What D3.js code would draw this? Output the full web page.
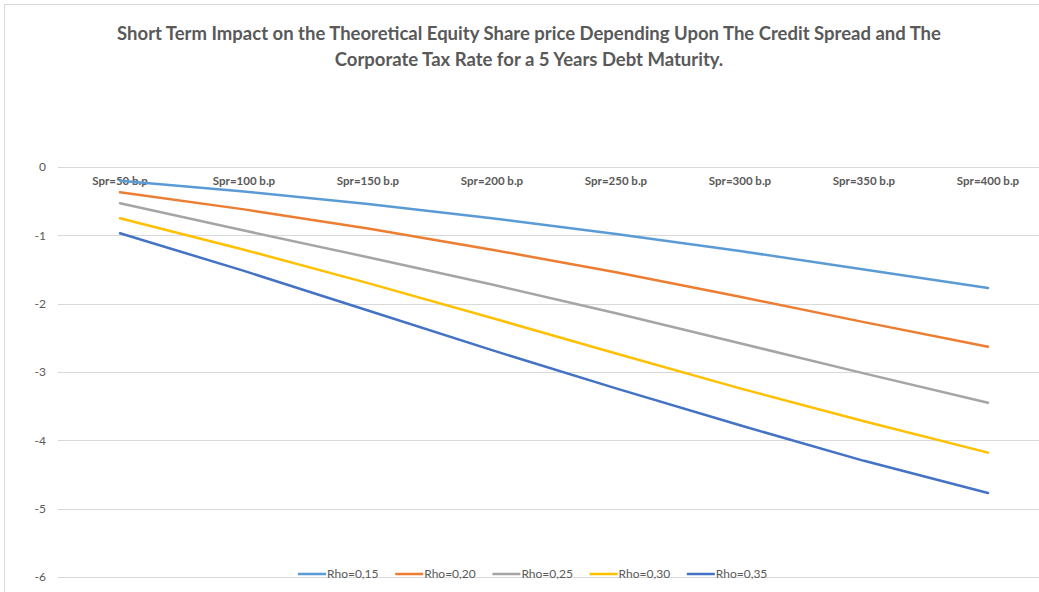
<!DOCTYPE html>
<html>
<head>
<meta charset="utf-8">
<script src="https://cdnjs.cloudflare.com/ajax/libs/d3/7.8.5/d3.min.js"></script>
<style>
    body { margin: 0; background: #fff; }
    svg { display: block; }
</style>
</head>
<body>
<svg id="chart" width="1039" height="592"></svg>
<script>
// chart data
var categories = ["Spr=50 b.p", "Spr=100 b.p", "Spr=150 b.p", "Spr=200 b.p",
    "Spr=250 b.p", "Spr=300 b.p", "Spr=350 b.p", "Spr=400 b.p"];
var seriesNames = ["Rho=0,15", "Rho=0,20", "Rho=0,25", "Rho=0,30", "Rho=0,35"];
var rho15 = [-0.20, -0.36, -0.54, -0.75, -0.98, -1.23, -1.50, -1.77];
var rho20 = [-0.37, -0.62, -0.90, -1.21, -1.54, -1.90, -2.27, -2.63];
var rho25 = [-0.53, -0.93, -1.32, -1.72, -2.14, -2.58, -3.02, -3.45];
var rho30 = [-0.75, -1.21, -1.70, -2.21, -2.73, -3.24, -3.72, -4.18];
var rho35 = [-0.97, -1.52, -2.10, -2.68, -3.24, -3.78, -4.30, -4.77];
var yTicks = [0, -1, -2, -3, -4, -5, -6];

var seriesValues = [rho15, rho20, rho25, rho30, rho35];
var colors = ["#5B9BD5", "#ED7D31", "#A5A5A5", "#FFC000", "#4472C4"];

var FONT = "Lato, 'Open Sans', Arial, sans-serif";
var TEXT_COLOR = "#595959";

var svg = d3.select("#chart");

// outer chart border
svg.append("rect")
    .attr("x", 4.5).attr("y", 4.5)
    .attr("width", 1060).attr("height", 620)
    .attr("fill", "#fff")
    .attr("stroke", "#d9d9d9");

var x = d3.scaleBand()
    .domain(categories)
    .range([58, 1050]);

var y = d3.scaleLinear()
    .domain([-6, 0])
    .range([577, 167]);

// gridlines
svg.append("g")
    .selectAll("line")
    .data(yTicks)
    .enter().append("line")
    .attr("x1", 58).attr("x2", 1050)
    .attr("y1", function (d) { return Math.round(y(d)) + 0.5; })
    .attr("y2", function (d) { return Math.round(y(d)) + 0.5; })
    .attr("stroke", "#d9d9d9")
    .attr("stroke-width", 1);

// y axis labels
var yAxis = d3.axisLeft(y).tickValues(yTicks).tickSize(0).tickPadding(0).tickFormat(d3.format("d"));
var yg = svg.append("g")
    .attr("transform", "translate(46,0)")
    .call(yAxis);
yg.select(".domain").remove();
yg.selectAll("text")
    .attr("fill", TEXT_COLOR)
    .style("font-family", FONT)
    .style("font-size", "12px")
    .text(function (d) { return d < 0 ? "-" + Math.abs(d) : d; });

// x axis labels sit just under the zero line
var xAxis = d3.axisBottom(x).tickSize(0).tickPadding(0);
var xg = svg.append("g")
    .attr("transform", "translate(0," + (y(0) + 10) + ")")
    .call(xAxis);
xg.select(".domain").remove();
xg.selectAll("text")
    .attr("fill", TEXT_COLOR)
    .style("font-family", FONT)
    .style("font-size", "11.5px")
    .style("font-weight", "bold");

// series lines
var line = d3.line()
    .x(function (d, i) { return x(categories[i]) + x.bandwidth() / 2; })
    .y(function (d) { return y(d); });

svg.append("g")
    .selectAll("path")
    .data(seriesValues)
    .enter().append("path")
    .attr("d", line)
    .attr("fill", "none")
    .attr("stroke", function (d, i) { return colors[i]; })
    .attr("stroke-width", 2.5)
    .attr("stroke-linecap", "round");

// title
var title = svg.append("text")
    .attr("x", 529)
    .attr("y", 40)
    .attr("text-anchor", "middle")
    .attr("fill", TEXT_COLOR)
    .style("font-family", FONT)
    .style("font-size", "18.5px")
    .style("font-weight", "bold");
title.append("tspan").attr("x", 529).attr("dy", 0)
    .text("Short Term Impact on the Theoretical Equity Share price Depending Upon The Credit Spread and The");
title.append("tspan").attr("x", 529).attr("dy", 26)
    .text("Corporate Tax Rate for a 5 Years Debt Maturity.");

// legend
var legend = svg.append("g")
    .selectAll("g")
    .data(seriesNames)
    .enter().append("g")
    .attr("transform", function (d, i) { return "translate(" + (298 + i * 97.2) + ",574)"; });
legend.append("line")
    .attr("x1", 0).attr("x2", 28)
    .attr("stroke", function (d, i) { return colors[i]; })
    .attr("stroke-width", 2.5);
legend.append("text")
    .attr("x", 29)
    .attr("dy", "0.35em")
    .attr("fill", TEXT_COLOR)
    .style("font-family", FONT)
    .style("font-size", "12px")
    .text(function (d) { return d; });
</script>
</body>
</html>
